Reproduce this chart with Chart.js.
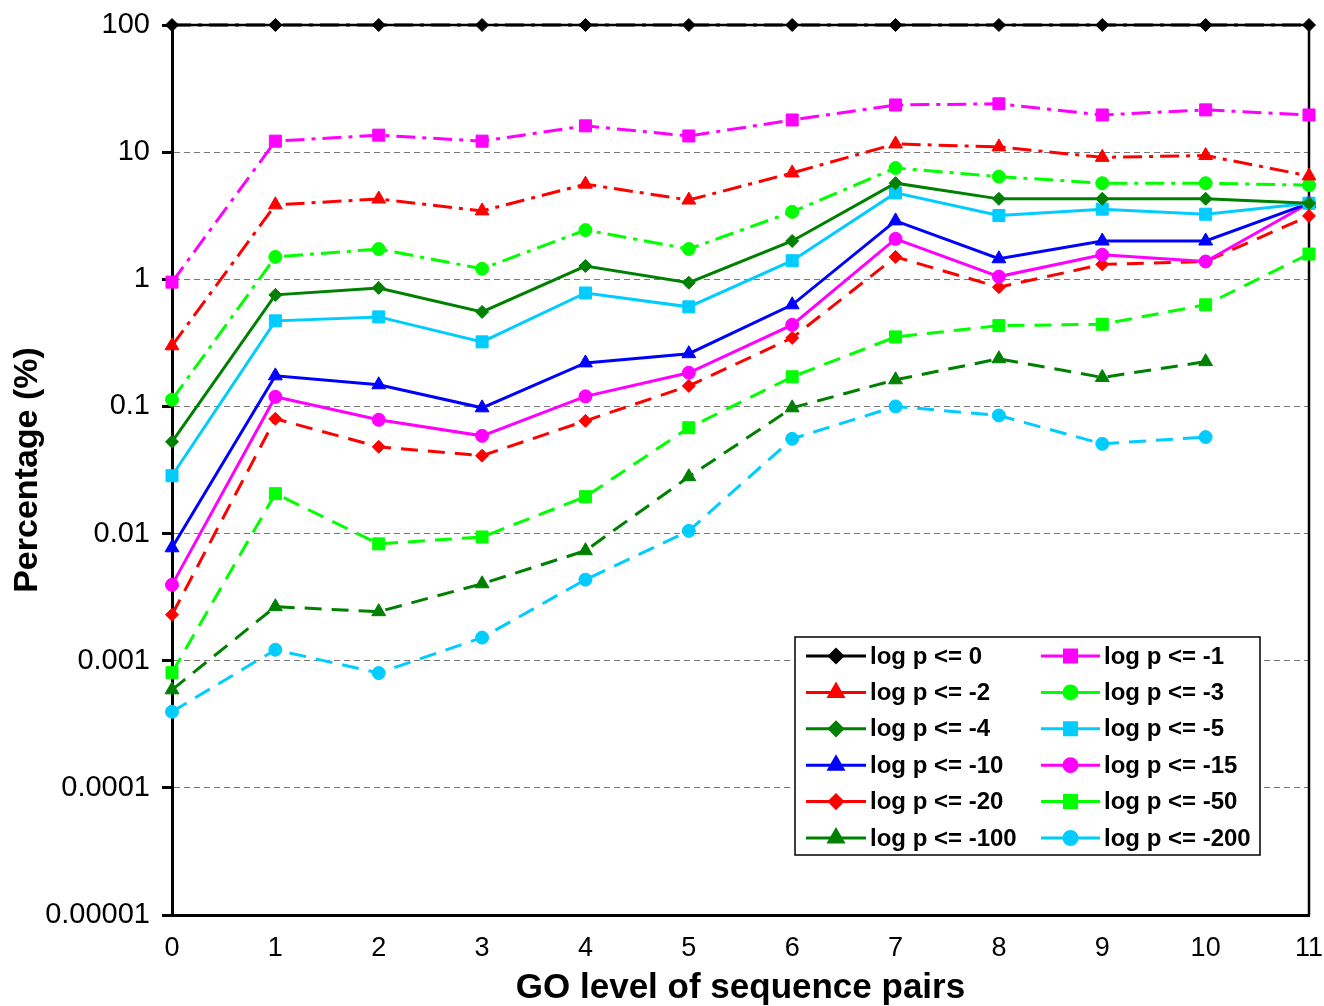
<!DOCTYPE html>
<html>
<head>
<meta charset="utf-8">
<title>GO level chart</title>
<script src="https://cdn.jsdelivr.net/npm/chart.js@4.4.1/dist/chart.umd.min.js"></script>
<style>
    html, body { margin: 0; padding: 0; background: #ffffff; }
    #wrap { width: 1324px; height: 1006px; }
</style>
</head>
<body>
<div id="wrap"><canvas id="goChart" width="1324" height="1006"></canvas></div>
<script>
// GO level vs percentage, one series per log p cutoff

const levels = ['0', '1', '2', '3', '4', '5', '6', '7', '8', '9', '10', '11'];

const p0 = [100, 100, 100, 100, 100, 100, 100, 100, 100, 100, 100, 100];
const p1 = [0.95, 12.2, 13.6, 12.2, 16.1, 13.4, 17.9, 23.5, 24, 19.6, 21.5, 19.6];
const p2 = [0.30, 3.85, 4.28, 3.45, 5.6, 4.2, 6.86, 11.6, 11.0, 9.1, 9.4, 6.5];
const p3 = [0.113, 1.5, 1.73, 1.21, 2.44, 1.73, 3.39, 7.5, 6.42, 5.7, 5.7, 5.5];
const p4 = [0.0527, 0.754, 0.855, 0.554, 1.27, 0.94, 2.0, 5.7, 4.29, 4.29, 4.3, 3.96];
const p5 = [0.0285, 0.471, 0.506, 0.322, 0.78, 0.607, 1.40, 4.78, 3.17, 3.56, 3.25, 3.96];
const p10 = [0.00773, 0.174, 0.148, 0.0975, 0.22, 0.26, 0.63, 2.88, 1.45, 2.0, 2.0, 3.96];
const p15 = [0.00395, 0.119, 0.0785, 0.0587, 0.12, 0.184, 0.438, 2.08, 1.05, 1.56, 1.38, 3.96];
const p20 = [0.0023, 0.08, 0.0481, 0.041, 0.077, 0.145, 0.346, 1.5, 0.867, 1.31, 1.38, 3.15];
const p50 = [0.000805, 0.0206, 0.0083, 0.0094, 0.0195, 0.068, 0.171, 0.352, 0.432, 0.443, 0.63, 1.58];
const p100 = [0.00059, 0.00266, 0.00243, 0.00403, 0.00733, 0.028, 0.0975, 0.162, 0.237, 0.169, 0.225, null];
const p200 = [0.000397, 0.00122, 0.0008, 0.00152, 0.00434, 0.0105, 0.0556, 0.1, 0.0849, 0.0508, 0.0574, null];

const yTicks = [100, 10, 1, 0.1, 0.01, 0.001, 0.0001, 0.00001];
const yTickLabels = ['100', '10', '1', '0.1', '0.01', '0.001', '0.0001', '0.00001'];

const FONT = '"Liberation Sans", Arial, Helvetica, sans-serif';
const DASH_DOT = [19, 7, 4, 7];
const DASHED = [17, 10];

// marker sizes per point style, so they look alike on screen
const RADIUS = {rect: 8.5, rectRot: 6.5, triangle: 8, circle: 6.5};

function series(label, data, color, pointStyle, dash) {
    return {
        label: label,
        data: data,
        borderColor: color,
        backgroundColor: color,
        pointBackgroundColor: color,
        pointBorderColor: color,
        pointStyle: pointStyle,
        pointRadius: RADIUS[pointStyle],
        pointBorderWidth: 1,
        borderWidth: 3,
        borderDash: dash,
        tension: 0,
        fill: false,
        spanGaps: false,
        clip: false
    };
}

const datasets = [
    series('log p <= 0', p0, '#000000', 'rectRot', DASH_DOT),
    series('log p <= -1', p1, '#FF00FF', 'rect', DASH_DOT),
    series('log p <= -2', p2, '#FF0000', 'triangle', DASH_DOT),
    series('log p <= -3', p3, '#00FF00', 'circle', DASH_DOT),
    series('log p <= -4', p4, '#008000', 'rectRot', []),
    series('log p <= -5', p5, '#00CCFF', 'rect', []),
    series('log p <= -10', p10, '#0000FF', 'triangle', []),
    series('log p <= -15', p15, '#FF00FF', 'circle', []),
    series('log p <= -20', p20, '#FF0000', 'rectRot', DASHED),
    series('log p <= -50', p50, '#00FF00', 'rect', DASHED),
    series('log p <= -100', p100, '#008000', 'triangle', DASHED),
    series('log p <= -200', p200, '#00CCFF', 'circle', DASHED)
];

// Frame on the top and right of the plot area
const framePlugin = {
    id: 'frame',
    beforeDatasetsDraw(chart) {
        const {ctx, chartArea} = chart;
        ctx.save();
        ctx.strokeStyle = '#000000';
        ctx.lineWidth = 2.5;
        ctx.beginPath();
        ctx.moveTo(chartArea.left, chartArea.top);
        ctx.lineTo(chartArea.right, chartArea.top);
        ctx.lineTo(chartArea.right, chartArea.bottom);
        ctx.stroke();
        ctx.restore();
    }
};

// Two-column boxed legend inside the plot, like the original
const boxLegend = {
    id: 'boxLegend',
    afterDraw(chart) {
        const ctx = chart.ctx;
        const box = {x: 795, y: 637, w: 465, h: 218};
        const rowY = 656, rowStep = 36.4;
        const cols = [
            {lineFrom: 806, lineTo: 866, text: 870},
            {lineFrom: 1041, lineTo: 1100, text: 1104}
        ];
        ctx.save();
        ctx.fillStyle = '#ffffff';
        ctx.fillRect(box.x, box.y, box.w, box.h);
        ctx.strokeStyle = '#000000';
        ctx.lineWidth = 1.5;
        ctx.strokeRect(box.x, box.y, box.w, box.h);

        chart.data.datasets.forEach(function(ds, i) {
            const col = cols[i % 2];
            const y = rowY + Math.floor(i / 2) * rowStep;
            ctx.setLineDash([]);
            ctx.strokeStyle = ds.borderColor;
            ctx.lineWidth = 3;
            ctx.beginPath();
            ctx.moveTo(col.lineFrom, y);
            ctx.lineTo(col.lineTo, y);
            ctx.stroke();
            ctx.fillStyle = ds.pointBackgroundColor;
            Chart.helpers.drawPoint(ctx, {
                pointStyle: ds.pointStyle,
                radius: ds.pointRadius,
                rotation: 0,
                borderWidth: 1
            }, (col.lineFrom + col.lineTo) / 2, y);
            ctx.fillStyle = '#000000';
            ctx.font = 'bold 24px ' + FONT;
            ctx.textBaseline = 'middle';
            ctx.textAlign = 'left';
            ctx.fillText(ds.label, col.text, y + 1);
        });
        ctx.restore();
    }
};

const ctx = document.getElementById('goChart');

new Chart(ctx, {
    type: 'line',
    data: {
        labels: levels,
        datasets: datasets
    },
    options: {
        responsive: false,
        animation: false,
        devicePixelRatio: 1,
        layout: {
            autoPadding: false,
            padding: {left: 0, top: 25, right: 15, bottom: 0}
        },
        plugins: {
            legend: {display: false},
            tooltip: {enabled: false}
        },
        scales: {
            x: {
                type: 'category',
                offset: false,
                afterFit: function(scale) {
                    scale.height = 91;
                    scale.paddingLeft = 0;
                    scale.paddingRight = 0;
                },
                grid: {display: false, drawTicks: false},
                border: {display: true, color: '#000000', width: 3},
                ticks: {
                    color: '#000000',
                    padding: 17,
                    maxRotation: 0,
                    autoSkip: false,
                    font: {family: FONT, size: 27}
                },
                title: {
                    display: true,
                    text: 'GO level of sequence pairs',
                    color: '#000000',
                    font: {family: FONT, size: 35, weight: 'bold', lineHeight: 1},
                    padding: {top: 0, bottom: 0}
                }
            },
            y: {
                type: 'logarithmic',
                min: 0.00001,
                max: 100,
                afterFit: function(scale) {
                    scale.width = 172;
                    scale.paddingTop = 0;
                    scale.paddingBottom = 0;
                },
                afterBuildTicks: function(scale) {
                    scale.ticks = yTicks.map(v => ({value: v}));
                },
                grid: {
                    color: '#777777',
                    lineWidth: 1,
                    drawTicks: true,
                    tickLength: 10,
                    tickColor: '#000000',
                    tickWidth: 3,
                    tickBorderDash: []
                },
                border: {display: true, color: '#000000', width: 3, dash: [6, 4]},
                ticks: {
                    color: '#000000',
                    padding: 12,
                    autoSkip: false,
                    font: {family: FONT, size: 29},
                    callback: function(value) {
                        const idx = yTicks.indexOf(value);
                        return idx >= 0 ? yTickLabels[idx] : '';
                    }
                },
                title: {
                    display: true,
                    text: 'Percentage (%)',
                    color: '#000000',
                    font: {family: FONT, size: 34, weight: 'bold', lineHeight: 1},
                    padding: {top: 11, bottom: 0}
                }
            }
        }
    },
    plugins: [framePlugin, boxLegend]
});
</script>
</body>
</html>
